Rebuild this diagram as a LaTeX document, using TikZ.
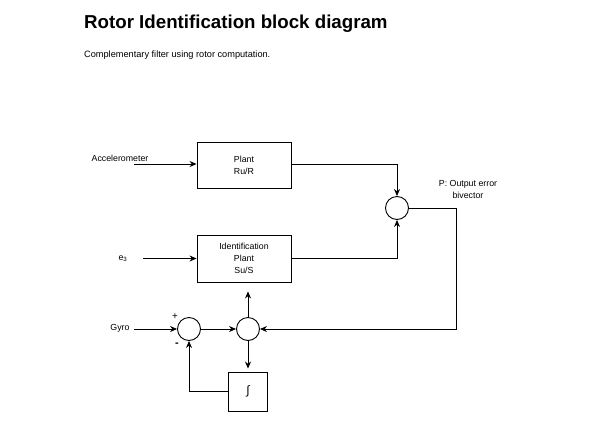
\documentclass[tikz,border=0pt]{standalone}
\usepackage{fontspec}
\setmainfont{Liberation Sans}
\usetikzlibrary{arrows.meta}
\begin{document}
\begin{tikzpicture}[x=1pt,y=-1pt,
  every node/.style={font=\fontsize{8.8}{12}\selectfont, inner sep=0pt},
  block/.style={draw, line width=0.9pt, rectangle, align=center},
  sumnode/.style={draw, line width=0.9pt, circle, minimum size=23pt},
  conn/.style={line width=0.9pt, -{Stealth[length=7pt,width=6pt]}},
  lbl/.style={align=center}]
\useasboundingbox (0,0) rectangle (611,437);
\node[anchor=base west, font=\fontsize{18.7}{20}\bfseries\selectfont] (title) at (84,28) {Rotor Identification block diagram};
\node[anchor=base west, font=\fontsize{9.2}{10}\selectfont] (sub) at (84,57) {Complementary filter using rotor computation.};

\node[block, minimum width=94pt, minimum height=46pt] (plant) at (244,165) {Plant\\Ru/R};
\node[block, minimum width=94pt, minimum height=47pt] (ident) at (244,258.5) {Identification\\Plant\\Su/S};
\node[sumnode] (sumP) at (397,208) {};
\node[sumnode] (sum1) at (189,329) {};
\node[sumnode] (sum2) at (248,329) {};
\node[block, minimum width=39pt, minimum height=39pt, font=\fontsize{12}{12}\selectfont] (integ) at (248,391.5) {∫};

\node[lbl] (accel) at (120,158.5) {Accelerometer};
\node[lbl] (e3) at (123,258.5) {e\textsubscript{3}};
\node[lbl] (gyro) at (120,328) {Gyro};
\node[lbl] (plbl) at (468,189) {P: Output error\\bivector};
\node[font=\fontsize{10}{12}\selectfont] (plus) at (175,317) {+};
\node[font=\fontsize{11}{12}\bfseries\selectfont] (minus) at (177,345) {-};

\coordinate (accelin) at (134,164);
\coordinate (e3in) at (143,258.5);
\coordinate (gyroin) at (134,329);
\coordinate (corner) at (456,329);

\draw[conn] (accelin) -- (accelin -| plant.west);
\draw[conn] (plant.east |- accelin) -| (sumP.north);
\draw[conn] (e3in) -- (ident.west);
\draw[conn] (ident.east) -| (sumP.south);
\draw[conn] (sumP.east) -| (corner) -- (sum2.east);
\draw[conn] (gyroin) -- (sum1.west);
\draw[conn] (sum1.east) -- (sum2.west);
\draw[conn, shorten >=9pt] (sum2.north) -- (sum2.north |- ident.south);
\draw[conn, shorten >=3pt] (sum2.south) -- (integ.north);
\draw[conn] (integ.west) -| (sum1.south);
\end{tikzpicture}
\end{document}
